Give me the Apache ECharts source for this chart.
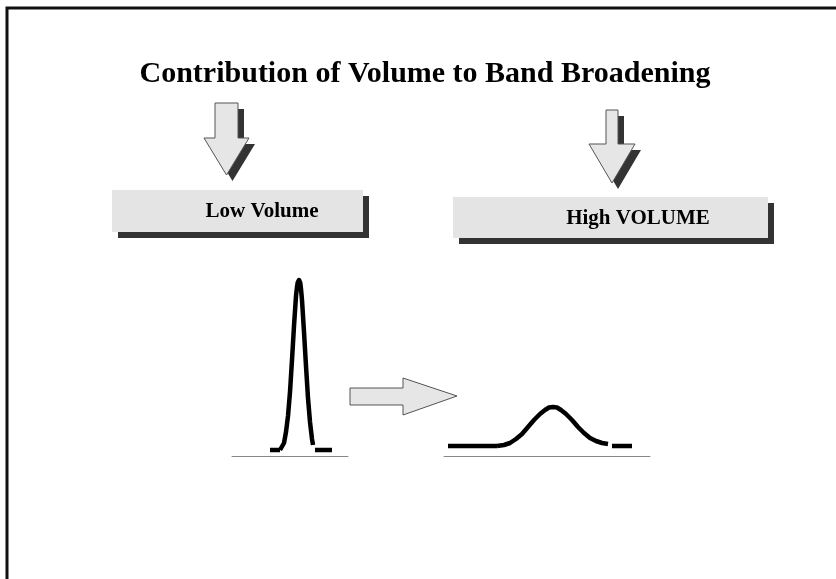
<!DOCTYPE html>
<html>
<head>
<meta charset="utf-8">
<style>
  html, body { margin: 0; padding: 0; background: #fff; }
  #main { width: 836px; height: 579px; }
</style>
<script src="https://cdn.jsdelivr.net/npm/echarts@6/dist/echarts.min.js"></script>
</head>
<body>
<div id="main"></div>
<script>
  // texts
  var titleText = 'Contribution of Volume to Band Broadening';
  var lowLabel = 'Low Volume';
  var highLabel = 'High VOLUME';

  // narrow peak (low volume) : [x, height above baseline]
  var lowLeftTail = [[38, 6], [48, 6]];
  var lowPeak = [[48, 6], [50, 8], [52, 13], [54, 24], [56, 40], [58, 64], [60, 96],
    [62, 130], [64, 160], [65, 169], [65.7, 173.5], [66.4, 175.5], [67, 176], [67.6, 175.5],
    [68.3, 173], [69, 167], [70, 156], [72, 124], [74, 90], [76, 58], [78, 34], [80, 17], [81, 11]];
  var lowRightTail = [[83, 6], [100, 6]];

  // broad peak (high volume)
  var highLeftTail = [[4, 10], [53, 10]];
  var highPeak = [[53, 10], [60, 11], [66, 13], [72, 17], [78, 22], [84, 29], [90, 36],
    [96, 42], [101, 46], [105, 48.5], [109, 49], [113, 48.5], [117, 46], [122, 42],
    [128, 36], [134, 29], [140, 23], [146, 18], [152, 15], [158, 13], [164, 12]];
  var highRightTail = [[168, 10], [188, 10]];

  var myChart = echarts.init(document.getElementById('main'), null, { renderer: 'canvas' });

  var serif = '"Liberation Serif", "Times New Roman", serif';

  function peakLine(data, idx) {
    return {
      type: 'line',
      xAxisIndex: idx,
      yAxisIndex: idx,
      data: data,
      symbol: 'none',
      smooth: false,
      silent: true,
      lineStyle: { color: '#000', width: 4.5, join: 'round' }
    };
  }

  // down arrow with shadow
  function downArrow(x0, y0, bw, bh, hw, hh, sh) {
    var cx = x0 + bw / 2;
    var pts = [
      [x0, y0], [x0 + bw, y0], [x0 + bw, y0 + bh], [cx + hw / 2, y0 + bh],
      [cx, y0 + bh + hh], [cx - hw / 2, y0 + bh], [x0, y0 + bh]
    ];
    var shadowPts = pts.map(function (p) { return [p[0] + sh, p[1] + sh]; });
    return [
      { type: 'polygon', shape: { points: shadowPts }, style: { fill: '#333' } },
      { type: 'polygon', shape: { points: pts }, style: { fill: '#e6e6e6', stroke: '#555', lineWidth: 1 } }
    ];
  }

  function labelBox(x, y, w, h, sh, text, tx) {
    return [
      { type: 'rect', shape: { x: x + sh, y: y + sh, width: w, height: h }, style: { fill: '#333' } },
      { type: 'rect', shape: { x: x, y: y, width: w, height: h }, style: { fill: '#e4e4e4' } },
      { type: 'text', x: tx, y: y + h / 2 + 1, style: {
        text: text, font: 'bold 21px ' + serif, fill: '#000',
        textAlign: 'center', textVerticalAlign: 'middle' } }
    ];
  }

  var graphics = [
    // frame
    { type: 'polyline', shape: { points: [[7, 579], [7, 8], [836, 8]] },
      style: { stroke: '#111', lineWidth: 3, fill: null } },
    { type: 'text', x: 425, y: 74, style: {
      text: titleText, font: 'bold 30px ' + serif, fill: '#000',
      textAlign: 'center', textVerticalAlign: 'middle' } }
  ];
  graphics = graphics
    .concat(downArrow(215, 103, 23, 35, 45, 37, 6))
    .concat(downArrow(606, 110, 12, 34, 46, 39, 6))
    .concat(labelBox(112, 190, 251, 42, 6, lowLabel, 262))
    .concat(labelBox(453, 197, 315, 41, 6, highLabel, 638));
  // right arrow between peaks
  graphics.push({ type: 'polygon', shape: { points: [
    [350, 388], [403, 388], [403, 378], [457, 396], [403, 415], [403, 405], [350, 405]
  ] }, style: { fill: '#e6e6e6', stroke: '#555', lineWidth: 1 } });

  function xAx(idx, max) {
    return {
      type: 'value', gridIndex: idx, min: 0, max: max,
      axisLine: { show: true, lineStyle: { color: '#888', width: 1 } },
      axisTick: { show: false }, axisLabel: { show: false }, splitLine: { show: false }
    };
  }
  function yAx(idx, max) {
    return {
      type: 'value', gridIndex: idx, min: 0, max: max,
      axisLine: { show: false }, axisTick: { show: false },
      axisLabel: { show: false }, splitLine: { show: false }
    };
  }

  myChart.setOption({
    animation: false,
    backgroundColor: '#fff',
    grid: [
      { left: 232, top: 270, width: 116, height: 186 },
      { left: 444, top: 400, width: 206, height: 56 }
    ],
    xAxis: [xAx(0, 116), xAx(1, 206)],
    yAxis: [yAx(0, 186), yAx(1, 56)],
    series: [
      peakLine(lowLeftTail, 0), peakLine(lowPeak, 0), peakLine(lowRightTail, 0),
      peakLine(highLeftTail, 1), peakLine(highPeak, 1), peakLine(highRightTail, 1)
    ],
    graphic: graphics
  });
</script>
</body>
</html>
